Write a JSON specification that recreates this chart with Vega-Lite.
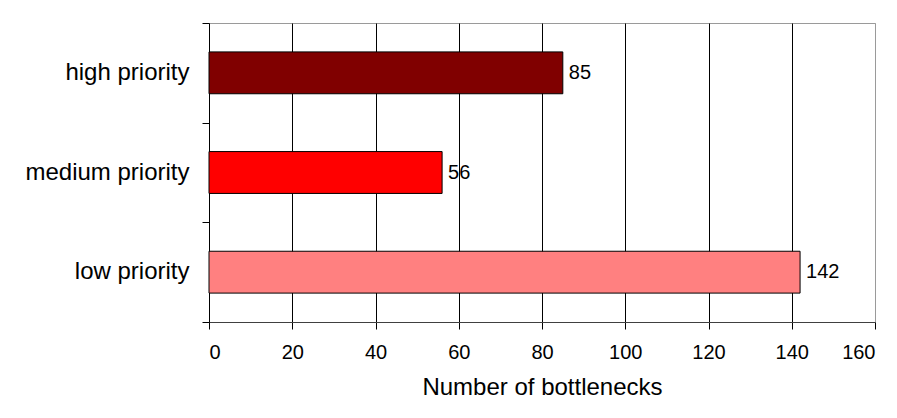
{
  "$schema": "https://vega.github.io/schema/vega-lite/v6.json",
  "width": 666,
  "height": 299,
  "autosize": {"type": "none"},
  "padding": {"left": 209, "top": 23, "right": 22, "bottom": 96},
  "background": "white",
  "config": {
    "font": "Liberation Sans",
    "view": {"stroke": "#9a9a9a", "strokeWidth": 1},
    "axis": {"labelFont": "Liberation Sans", "titleFont": "Liberation Sans", "labelColor": "#000", "titleColor": "#000"}
  },
  "datasets": {
    "bars": [
      {"category": "high priority", "count": 85},
      {"category": "medium priority", "count": 56},
      {"category": "low priority", "count": 142}
    ],
    "ticks": [{"t": 0}, {"t": 1}, {"t": 2}, {"t": 3}]
  },
  "resolve": {"scale": {"y": "independent"}},
  "layer": [
    {
      "data": {"name": "bars"},
      "layer": [
        {
          "mark": {"type": "bar", "stroke": "#000", "strokeWidth": 1},
          "encoding": {
            "y": {
              "field": "category", "type": "nominal",
              "sort": ["high priority", "medium priority", "low priority"],
              "scale": {"paddingInner": 0.58, "paddingOuter": 0.29},
              "axis": {"title": null, "ticks": false, "tickSize": 0, "labelPadding": 20, "labelFontSize": 24, "domainColor": "#000", "labelLimit": 300}
            },
            "x": {
              "field": "count", "type": "quantitative",
              "scale": {"domain": [0, 160], "nice": false},
              "axis": {
                "title": "Number of bottlenecks",
                "titleFontSize": 24, "titleFontWeight": "normal", "titlePadding": 13,
                "values": [0, 20, 40, 60, 80, 100, 120, 140, 160],
                "labelFontSize": 20, "labelPadding": 13,
                "tickSize": 7, "tickColor": "#000", "domainColor": "#404040",
                "grid": true,
                "gridColor": {"condition": {"test": "datum.value === 160 || datum.value === 0", "value": "#9a9a9a"}, "value": "#000"},
                "gridOpacity": 1
              }
            },
            "color": {
              "field": "category", "type": "nominal",
              "scale": {"domain": ["high priority", "medium priority", "low priority"], "range": ["#800000", "#ff0000", "#ff8080"]},
              "legend": null
            }
          }
        },
        {
          "mark": {"type": "text", "align": "left", "baseline": "middle", "dx": 6, "fontSize": 20, "color": "#000"},
          "encoding": {
            "y": {"field": "category", "type": "nominal", "sort": ["high priority", "medium priority", "low priority"]},
            "x": {"field": "count", "type": "quantitative"},
            "text": {"field": "count"}
          }
        }
      ]
    },
    {
      "data": {"name": "ticks"},
      "mark": {"type": "point", "opacity": 0},
      "encoding": {
        "y": {
          "field": "t", "type": "quantitative",
          "scale": {"domain": [0, 3], "nice": false, "zero": false},
          "axis": {"orient": "left", "values": [0, 1, 2, 3], "labels": false, "grid": false, "domain": false, "ticks": true, "tickSize": 7, "tickColor": "#000", "title": null}
        }
      }
    }
  ]
}
